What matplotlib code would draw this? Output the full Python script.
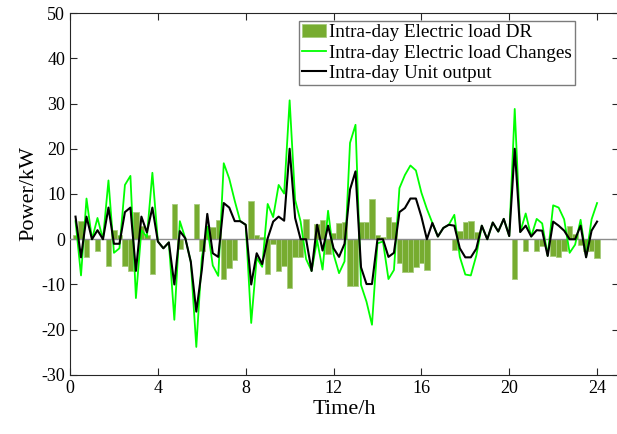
"""
Respuesta a la demanda intradía: DR de carga eléctrica, cambios de carga y salida de la unidad
"""
import numpy as np
import matplotlib.pyplot as plt

# Paso de 15 min a lo largo del día (96 intervalos)
tiempo_h = np.arange(1, 97) * 0.25

# DR de carga eléctrica intradía (kW)
carga_dr = [
    1, 4, -4, 0, -2.7, 0, -6, 2, 1, -6, -7, 6, 3, 1, -7.7, 0,
    0, 0, 7.8, -2.2, 0, 0, 7.8, -2.7, 2.8, 2.7, 4.2, -8.8, -6.4, -4.5, 0, 0,
    8.5, 1, 0.6, -7.6, -1, -7, -6, -10.7, -4, -3.9, 4.4, 0, 3.4, 4.2, -3.3, 1.3,
    3.6, 3.9, -10.3, -10.3, 3.9, 3.9, 9, 0.9, 0.5, 4.9, 3.8, -5.3, -7.3, -7.3, -6.2, -5.3,
    -6.7, 0, 0, 0, 0, -2.4, 1.9, 3.8, 4, 1.5, 0, 0, 0, 0, 0, 0,
    -8.8, 0, -2.7, 0, -2.5, -1.6, 0, -3.6, -4, -2.5, 3, 1.2, -1.3, -2.5, -2.5, -4.1,
]

# Cambios de carga eléctrica intradía (kW)
carga_cambios = [
    4, -8, 9, 0, 4.7, 0, 13, -3, -2, 12, 14, -13, 2, 0.5, 14.7, -0.5,
    -2, -0.7, -17.8, 4, 0.2, -5, -23.8, -4.1, 2.8, -5.8, -8.1, 16.8, 13.4, 8.5, 4, 3.2,
    -18.5, -4.1, -6.1, 7.8, 4.9, 12, 10.1, 30.7, 8.7, 3.9, -4.4, -7, -0.2, -6.7, 6.3, -3.3,
    -7.5, -4.9, 21.3, 25.3, -10.1, -13.8, -18.9, -0.9, -0.5, -8.8, -6.8, 11.3, 14.2, 16.3, 15.2, 10.3,
    6.7, 3.6, 0.6, 2.5, 3.2, 5.4, -3.9, -7.8, -8, -3.6, 3, 0, 3.7, 1.7, 4.5, 0.7,
    28.8, 1.6, 5.7, 0.6, 4.5, 3.5, -3.6, 7.5, 7, 4.4, -3, -1.2, 4.3, -3.9, 4.4, 8,
]

# Salida de la unidad intradía (kW)
salida_unidad = [
    5, -4, 5, 0, 2, 0, 7, -1, -1, 6, 7, -7, 5, 1.5, 7, -0.5,
    -2, -0.7, -10, 1.8, 0.2, -5, -16, -6.8, 5.6, -3.1, -3.9, 8, 7, 4, 4, 3.2,
    -10, -3.1, -5.5, 0.2, 3.9, 5, 4.1, 20, 4.7, 0, 0, -7, 3.2, -2.5, 3, -2,
    -3.9, -1, 11, 15, -6.2, -9.9, -9.9, 0, 0, -3.9, -3, 6, 6.9, 9, 9, 5,
    0, 3.6, 0.6, 2.5, 3.2, 3, -2, -4, -4, -2.1, 3, 0, 3.7, 1.7, 4.5, 0.7,
    20, 1.6, 3, 0.6, 2, 1.9, -3.7, 3.9, 3, 1.9, 0, 0, 3, -4, 1.9, 3.9,
]

plt.rcParams['font.family'] = ['Liberation Serif', 'DejaVu Serif']
plt.rcParams['axes.unicode_minus'] = False  # guion simple en las etiquetas negativas

fig = plt.figure(figsize=(6.17, 4.34), dpi=100, facecolor='white')
ax = fig.add_axes([0.1135, 0.136, 0.8898, 0.834])

# Barras de DR con línea base gris
barras = ax.bar(tiempo_h, carga_dr, width=0.25, color='#77AC30', edgecolor='#a6cc7c',
                linewidth=0.6, label='Intra-day Electric load DR', zorder=2)
ax.axhline(0, color='#8c8c8c', linewidth=1.0, zorder=3)

linea_cambios, = ax.plot(tiempo_h, carga_cambios, color='#00FF00', linewidth=1.3,
                         label='Intra-day Electric load Changes', zorder=4)
linea_unidad, = ax.plot(tiempo_h, salida_unidad, color='black', linewidth=1.5,
                        label='Intra-day Unit output', zorder=5)

ax.set_xlim(0, 25)
ax.set_ylim(-30, 50)
ax.set_xticks(np.arange(0, 25, 4))
ax.set_yticks(np.arange(-30, 51, 10))

ax.tick_params(direction='in', top=True, right=True, length=5, width=0.8,
               colors='#262626', labelsize=13, labelcolor='black')
for lado in ax.spines.values():
    lado.set_color('#262626')
    lado.set_linewidth(0.8)

ax.set_xlabel('Time/h', fontsize=16, labelpad=2)
ax.set_ylabel('Power/kW', fontsize=16, labelpad=2)

# Leyenda en el orden barras, cambios, unidad
leyenda = ax.legend(handles=[barras, linea_cambios, linea_unidad],
                    loc='upper right', bbox_to_anchor=(0.92, 0.978),
                    fontsize=13.8, frameon=True, fancybox=False,
                    handlelength=1.3, handletextpad=0.15, borderpad=0.15,
                    labelspacing=0.15, borderaxespad=0)
leyenda.get_frame().set_edgecolor('#5a5a5a')
leyenda.get_frame().set_linewidth(1.0)

fig.savefig('out.png', dpi=100, facecolor='white')
plt.close(fig)
